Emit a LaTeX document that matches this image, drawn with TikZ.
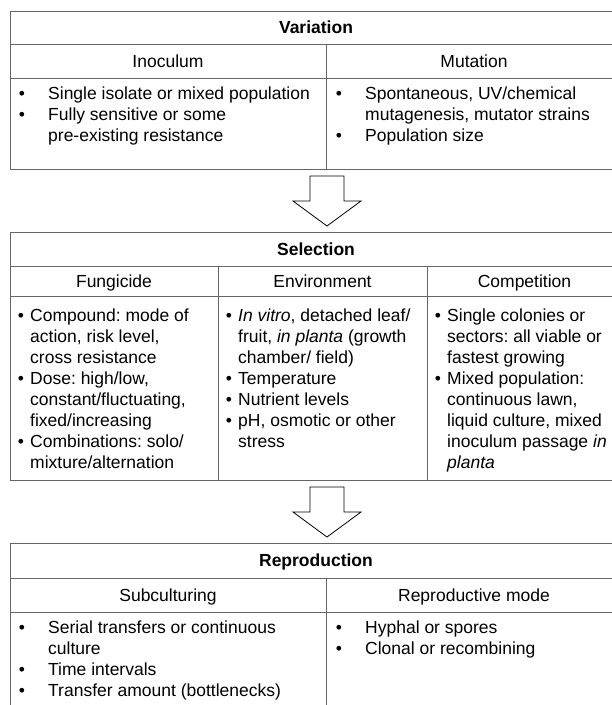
\documentclass[tikz,border=0pt]{standalone}
\usepackage{fontspec}
\setmainfont{Liberation Sans}
\frenchspacing

% lines of one bullet item, baseline at the first line
\newcommand{\blines}[1]{\parbox[t]{300pt}{\raggedright #1}}

\begin{document}
\begin{tikzpicture}[x=1pt, y=-1pt,
  every node/.style={font=\fontsize{17.5}{21}\selectfont, inner sep=0pt},
  rule/.style={black!60, line width=0.9pt},
  head/.style={text height=12.6pt, text depth=0pt},
  title/.style={head, font=\fontsize{17.5}{21}\selectfont\bfseries},
  dot/.style={anchor=base},
  item/.style={anchor=base west},
  bigarrow/.style={draw=black, line width=0.8pt, fill=white}]

  % Canvas
  \useasboundingbox (0,0) rectangle (612,705);
  \fill[white] (0,0) rectangle (612,705);
  \clip (0,0) rectangle (612,705);

  % Variation
  \draw[rule] (622,11) -- (10,11) -- (10,169) -- (622,169);
  \draw[rule] (10,44) -- (622,44);
  \draw[rule] (10,78) -- (622,78);
  \draw[rule] (326,44) -- (326,169);
  \node[title] (var) at (316,27.5) {Variation};
  \node[head] (inoc) at (168,61) {Inoculum};
  \node[head] (mut) at (474,61) {Mutation};
  \foreach \y in {99.3,120}{
    \node[dot] at (22,\y) {•};
  }
  \foreach \y in {99.3,141}{
    \node[dot] at (339,\y) {•};
  }
  \node[item] (inoc1) at (48,99.3) {Single isolate or mixed population};
  \node[item] (inoc2) at (48,120) {\blines{Fully sensitive or some\\pre-existing resistance}};
  \node[item] (mut1) at (365,99.3) {\blines{Spontaneous, UV/chemical\\mutagenesis, mutator strains}};
  \node[item] (mut2) at (365,141) {Population size};

  % Arrow to selection
  \coordinate (v2s) at (327,176);
  \coordinate (s2r) at (327,487);
  \foreach \c in {v2s,s2r}{
    \draw[bigarrow] (\c) ++(-17,0) -- ++(34,0) -- ++(0,25) -- ++(17,0)
      -- ++(-34,25) -- ++(-34,-25) -- ++(17,0) -- cycle;
  }

  % Selection
  \draw[rule] (622,232) -- (10,232) -- (10,480) -- (622,480);
  \draw[rule] (10,266) -- (622,266);
  \draw[rule] (10,296) -- (622,296);
  \draw[rule] (218,266) -- (218,480);
  \draw[rule] (427,266) -- (427,480);
  \node[title] (sel) at (316,249) {Selection};
  \node[head] (fung) at (114,281) {Fungicide};
  \node[head] (env) at (322.5,281) {Environment};
  \node[head] (comp) at (524.5,281) {Competition};
  \foreach \y in {321,384,447}{
    \node[dot] at (21,\y) {•};
  }
  \foreach \y in {321,384,405,426}{
    \node[dot] at (229,\y) {•};
  }
  \foreach \y in {321,384}{
    \node[dot] at (438,\y) {•};
  }
  \node[item] (fung1) at (30,321) {\blines{Compound: mode of\\action, risk level,\\cross resistance}};
  \node[item] (fung2) at (30,384) {\blines{Dose: high/low,\\constant/fluctuating,\\fixed/increasing}};
  \node[item] (fung3) at (30,447) {\blines{Combinations: solo/\\mixture/alternation}};
  \node[item] (env1) at (238,321) {\blines{\textit{In vitro}, detached leaf/\\fruit, \textit{in planta} (growth\\chamber/ field)}};
  \node[item] (env2) at (238,384) {Temperature};
  \node[item] (env3) at (238,405) {Nutrient levels};
  \node[item] (env4) at (238,426) {\blines{pH, osmotic or other\\stress}};
  \node[item] (comp1) at (447,321) {\blines{Single colonies or\\sectors: all viable or\\fastest growing}};
  \node[item] (comp2) at (447,384) {\blines{Mixed population:\\continuous lawn,\\liquid culture, mixed\\inoculum passage \textit{in}\\\textit{planta}}};

  % Reproduction
  \draw[rule] (622,543) -- (10,543) -- (10,720);
  \draw[rule] (10,578) -- (622,578);
  \draw[rule] (10,612) -- (622,612);
  \draw[rule] (326,578) -- (326,720);
  \node[title] (rep) at (316,560.5) {Reproduction};
  \node[head] (sub) at (168,595) {Subculturing};
  \node[head] (mode) at (474,595) {Reproductive mode};
  \foreach \y in {633.3,675,696}{
    \node[dot] at (22,\y) {•};
  }
  \foreach \y in {633.3,654}{
    \node[dot] at (339,\y) {•};
  }
  \node[item] (sub1) at (48,633.3) {\blines{Serial transfers or continuous\\culture}};
  \node[item] (sub2) at (48,675) {Time intervals};
  \node[item] (sub3) at (48,696) {Transfer amount (bottlenecks)};
  \node[item] (mode1) at (365,633.3) {Hyphal or spores};
  \node[item] (mode2) at (365,654) {Clonal or recombining};
\end{tikzpicture}
\end{document}
